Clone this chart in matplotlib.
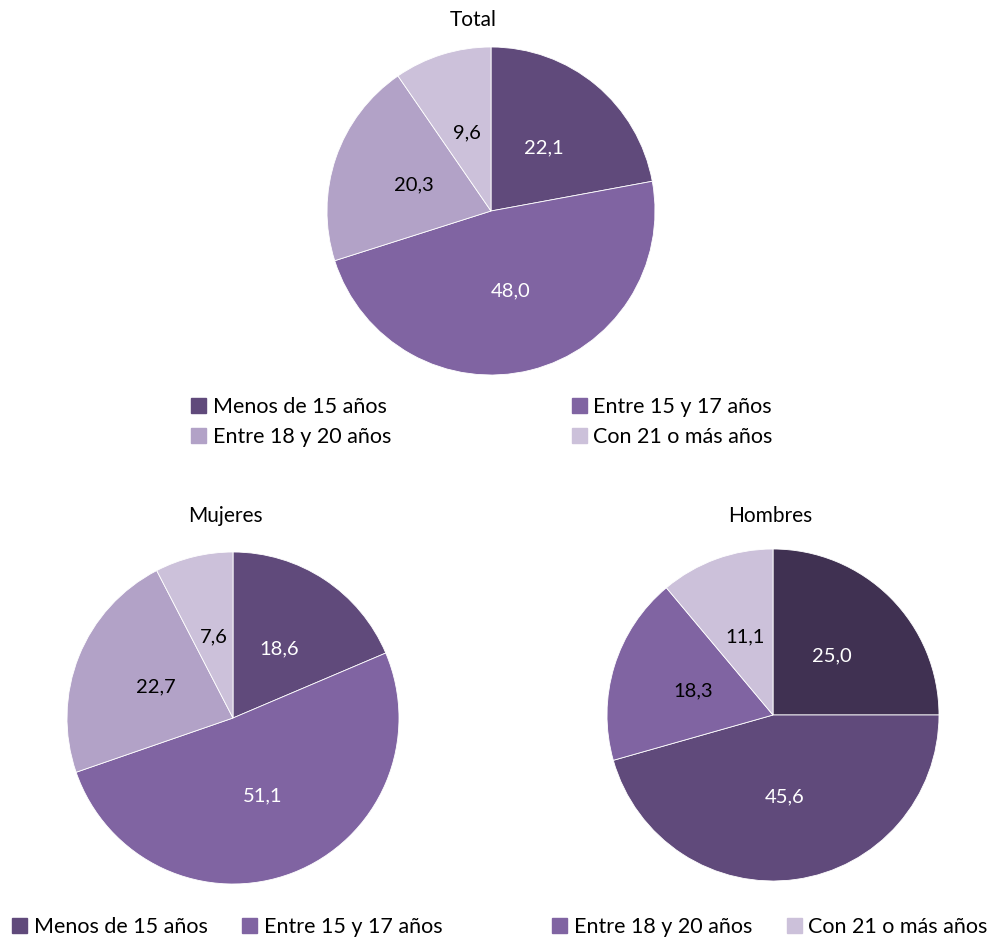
import matplotlib
matplotlib.use("Agg")
import matplotlib.pyplot as plt
from matplotlib.patches import Patch

plt.rcParams['font.family'] = ['Lato', 'DejaVu Sans']

categorias = ["Menos de 15 años", "Entre 15 y 17 años", "Entre 18 y 20 años", "Con 21 o más años"]

total = [22.1, 48.0, 20.3, 9.6]
mujeres = [18.6, 51.1, 22.7, 7.6]
hombres = [25.0, 45.6, 18.3, 11.1]

col_total = ["#604A7B", "#8064A2", "#B2A2C7", "#CCC1DA"]
col_mujeres = ["#604A7B", "#8064A2", "#B2A2C7", "#CCC1DA"]
col_hombres = ["#403152", "#604A7B", "#8064A2", "#CCC1DA"]
txt_col = ["white", "white", "black", "black"]

W, H = 989, 940
fig = plt.figure(figsize=(W / 100, H / 100), dpi=100)


def pie_axes(cx, cy, r):
    # pixel coords (top origin) -> figure fraction
    return fig.add_axes([(cx - r) / W, 1 - (cy + r) / H, 2 * r / W, 2 * r / H])


def draw_pie(ax, vals, cols, titulo, tx, ty):
    wedges, texts = ax.pie(vals, colors=cols, startangle=90, counterclock=False,
                           labels=[f"{v:.1f}".replace(".", ",") for v in vals],
                           labeldistance=0.5,
                           wedgeprops=dict(edgecolor="white", linewidth=0.6))
    for t, c in zip(texts, txt_col):
        t.set_color(c)
        t.set_fontsize(14.5)
        t.set_ha("center")
        t.set_va("center")
    ax.set_xlim(-1, 1)
    ax.set_ylim(-1, 1)
    ax.set_aspect("equal")
    ax.axis("off")
    fig.text(tx / W, 1 - ty / H, titulo, ha="center", va="center", fontsize=15)


ax1 = pie_axes(491, 211, 164)
draw_pie(ax1, total, col_total, "Total", 473, 20)

ax2 = pie_axes(233, 718, 166)
draw_pie(ax2, mujeres, col_mujeres, "Mujeres", 225, 516)

ax3 = pie_axes(773, 715, 166)
draw_pie(ax3, hombres, col_hombres, "Hombres", 770, 516)

leg_kw = dict(frameon=False, fontsize=15.5, handlelength=0.7, handleheight=0.7,
              handletextpad=0.3)

# top legend (row order: 0 1 / 2 3)
h_top = [Patch(color=c) for c in col_total]
order = [0, 2, 1, 3]
fig.legend([h_top[i] for i in order], [categorias[i] for i in order],
           ncol=2, loc="center", bbox_to_anchor=(482 / W, 1 - 422 / H),
           columnspacing=8.4, labelspacing=0.45, **leg_kw)

# bottom legends
fig.legend([Patch(color="#604A7B"), Patch(color="#8064A2")], categorias[:2],
           ncol=2, loc="center left", bbox_to_anchor=(-7 / W, 1 - 927 / H),
           columnspacing=1.6, **leg_kw)
fig.legend([Patch(color="#8064A2"), Patch(color="#CCC1DA")], categorias[2:],
           ncol=2, loc="center left", bbox_to_anchor=(533 / W, 1 - 927 / H),
           columnspacing=1.6, **leg_kw)

fig.savefig("out.png", dpi=100)
